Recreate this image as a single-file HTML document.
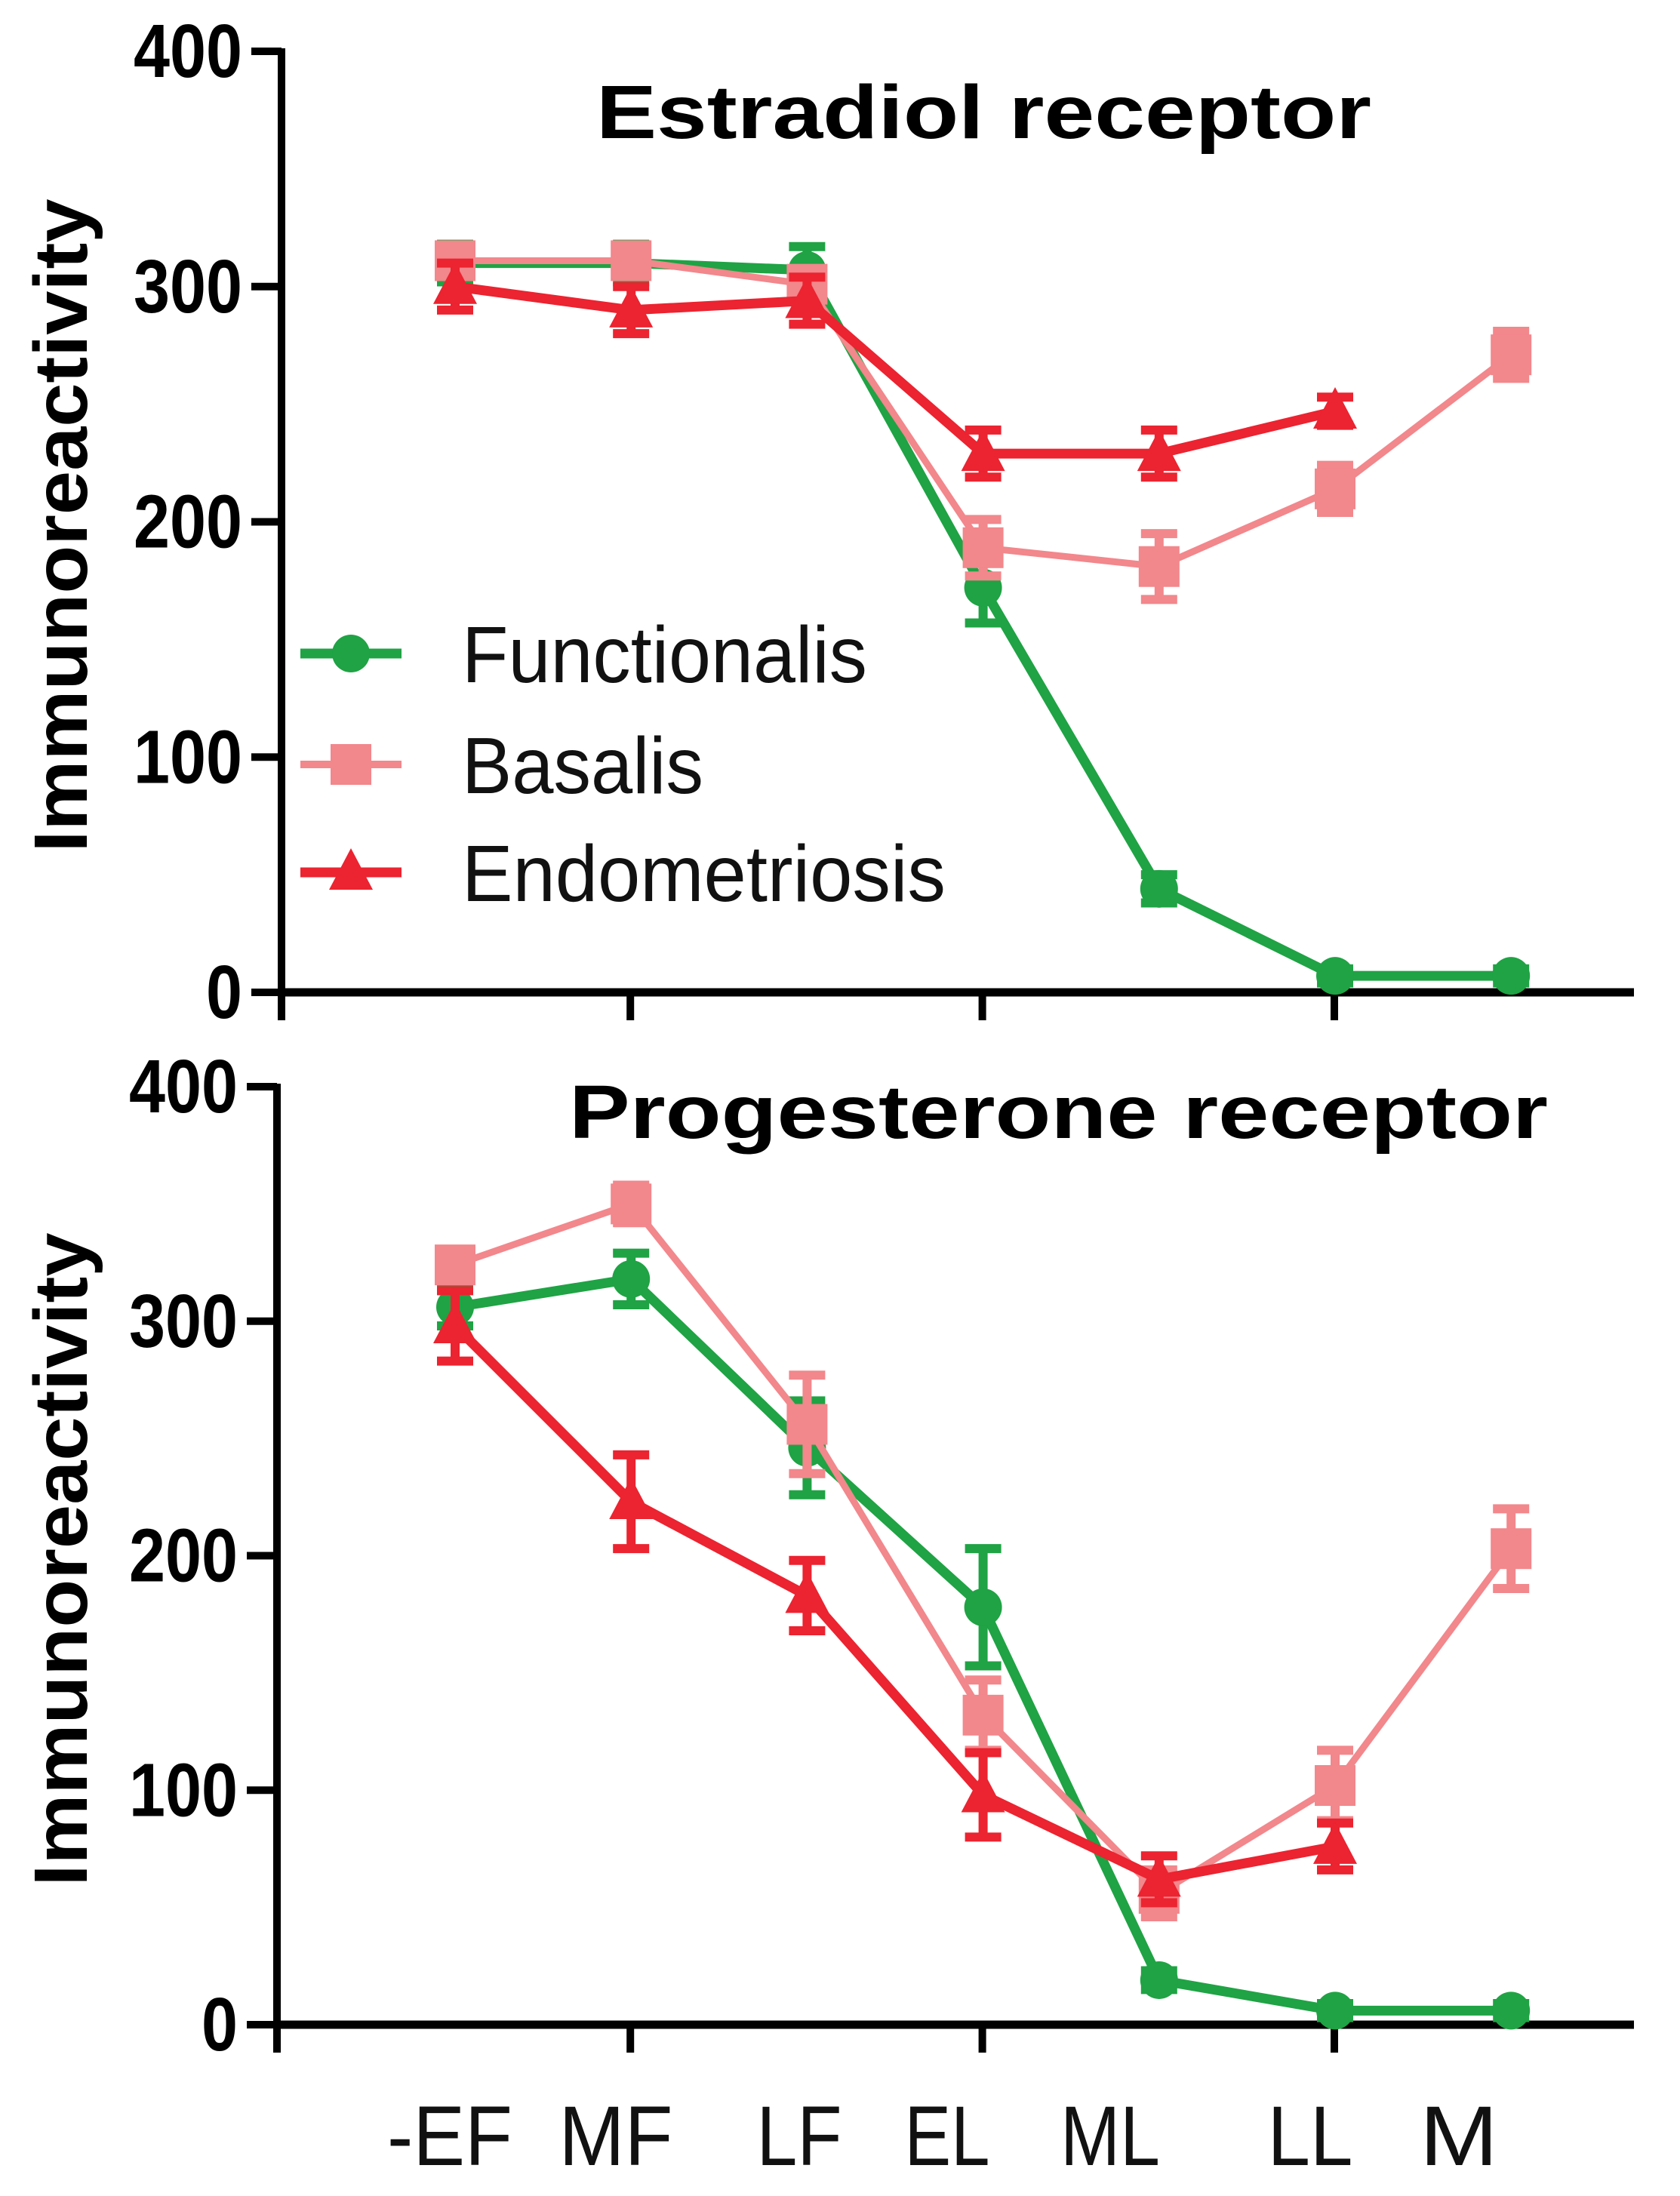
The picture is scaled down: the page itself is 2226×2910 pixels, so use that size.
<!DOCTYPE html>
<html><head><meta charset="utf-8"><style>
html,body{margin:0;padding:0;background:#fff;}
svg{display:block;}
text{font-family:"Liberation Sans",sans-serif;}
</style></head><body>
<svg id="chart" xmlns="http://www.w3.org/2000/svg" width="2226" height="2910" viewBox="0 0 2226 2910"></svg>
<script>
const categories = ["-EF","MF","LF","EL","ML","LL","M"];
const yTicks = [0,100,200,300,400];
const seriesNames = ["Functionalis","Basalis","Endometriosis"];
// Estradiol receptor
const erFunc = [310,310,307,172,44,7,7];
const erFuncErr = [8,8,10,15,6,3,3];
const erBas = [311,311,301,189,181,214,271];
const erBasErr = [6,6,6,12,14,10,10];
const erEndo = [300,290,294,229,229,247,null];
const erEndoErr = [10,10,10,10,10,6,null];
// Progesterone receptor
const prFunc = [306,318,246,178,19,6,6];
const prFuncErr = [8,11,20,25,4,3,3];
const prBas = [324,350,256,132,56,102,203];
const prBasErr = [6,8,21,15,10,15,17];
const prEndo = [298,223,183,98,62,76,null];
const prEndoErr = [15,20,15,18,10,10,null];

const NS="http://www.w3.org/2000/svg";
const svg=document.getElementById('chart');
function mk(tag,attrs,parent){const e=document.createElementNS(NS,tag);for(const k in attrs)e.setAttribute(k,attrs[k]);(parent||svg).appendChild(e);return e;}
const xOf=i=>603+i*233.2;
const colors={g:"#1fa344",p:"#f2878c",r:"#ec2330"};

function panel(y0,y400,axisX,axisBottom,title,titleX,titleBase,titleLen,fd,fe,bd,be,ed,ee,name){
  const yOf=v=>y0+(y400-y0)*v/400;
  const g=mk('g',{});
  
  
  const ya=mk('line',{x1:axisX,y1:y400-4,x2:axisX,y2:axisBottom,stroke:"#000","stroke-width":10},g);
  
  
  const xa=mk('line',{x1:axisX-5,y1:y0,x2:2165,y2:y0,stroke:"#000","stroke-width":11},g);
  
  
  yTicks.forEach(t=>{
    const ty=yOf(t);
    const tl=mk('line',{x1:axisX-40,y1:ty,x2:axisX,y2:ty,stroke:"#000","stroke-width":10},g);
    
    
    const s=String(t);
    const tx=mk('text',{x:axisX-52,y:ty+34,"text-anchor":"end","font-size":100,"font-weight":"bold",textLength:48*s.length,lengthAdjust:"spacingAndGlyphs"},g);
    tx.textContent=s;
    
    
  });
  [1,3,5].forEach(i=>{
    const xt=mk('line',{x1:xOf(i)-1,y1:y0,x2:xOf(i)-1,y2:axisBottom,stroke:"#000","stroke-width":10},g);
    
    
  });
  const tt=mk('text',{x:titleX,y:titleBase,"font-size":100,"font-weight":"bold",textLength:titleLen,lengthAdjust:"spacingAndGlyphs"},g);
  tt.textContent=title;
  
  
  const yc=(y0+y400)/2;
  const yl=mk('text',{x:0,y:0,"font-size":100,"font-weight":"bold","text-anchor":"middle",textLength:866,lengthAdjust:"spacingAndGlyphs",transform:`translate(115,${yc+5}) rotate(-90)`},g);
  yl.textContent="Immunoreactivity";
  
  

  function series(data,err,color,width,marker,sname){
    const sg=mk('g',{},g);
    
    
    let pts=[];
    data.forEach((v,i)=>{if(v!==null)pts.push(xOf(i)+','+yOf(v));});
    const pl=mk('polyline',{points:pts.join(' '),fill:"none",stroke:color,"stroke-width":width,"stroke-linejoin":"round"},sg);
    
    
    data.forEach((v,i)=>{
      if(v===null)return;
      const x=xOf(i),y=yOf(v),e=err[i]||0;
      if(e>0){
        const eb=mk('path',{d:`M${x},${yOf(v-e)}V${yOf(v+e)}M${x-24},${yOf(v+e)}H${x+24}M${x-24},${yOf(v-e)}H${x+24}`,stroke:color,"stroke-width":12,fill:"none"},sg);
        
        
      }
      let m;
      if(marker==='c')m=mk('circle',{cx:x,cy:y,r:25,fill:color},sg);
      else if(marker==='s')m=mk('rect',{x:x-27,y:y-27,width:54,height:54,fill:color},sg);
      else m=mk('polygon',{points:`${x},${y-32} ${x-29},${y+23} ${x+29},${y+23}`,fill:color},sg);
      
      
    });
  }
  series(fd,fe,colors.g,13,'c','functionalis');
  series(bd,be,colors.p,9,'s','basalis');
  series(ed,ee,colors.r,13,'t','endometriosis');
}
panel(1315,68,373,1352,"Estradiol receptor",790,183,1027,erFunc,erFuncErr,erBas,erBasErr,erEndo,erEndoErr,'estradiol');
panel(2683,1440,367,2720,"Progesterone receptor",754,1508,1297,prFunc,prFuncErr,prBas,prBasErr,prEndo,prEndoErr,'progesterone');

// legend
const legY=[866,1013,1156];
const legC=[colors.g,colors.p,colors.r];
const legW=[537,320,641];
const lg=mk('g',{});


seriesNames.forEach((n,i)=>{
  const y=legY[i];
  const e=mk('g',{},lg);
  
  
  mk('line',{x1:398,y1:y,x2:532,y2:y,stroke:legC[i],"stroke-width":i===1?10:13},e);
  if(i===0)mk('circle',{cx:465,cy:y,r:25,fill:legC[i]},e);
  else if(i===1)mk('rect',{x:438,y:y-27,width:54,height:54,fill:legC[i]},e);
  else mk('polygon',{points:`465,${y-32} 436,${y+23} 494,${y+23}`,fill:legC[i]},e);
  const t=mk('text',{x:612,y:y+38,"font-size":106,textLength:legW[i],lengthAdjust:"spacingAndGlyphs",fill:"#111"},e);
  t.textContent=n;
});

// x labels
const xLabCenters=[596,816,1059,1255,1471,1736,1933];
const xLabWidths=[166,151,113,113,132,113,104];
categories.forEach((c,i)=>{
  const t=mk('text',{x:xLabCenters[i],y:2869,"font-size":112,"text-anchor":"middle",textLength:xLabWidths[i],lengthAdjust:"spacingAndGlyphs",fill:"#111"});
  t.textContent=c;
  
  
});
</script>
</body></html>
